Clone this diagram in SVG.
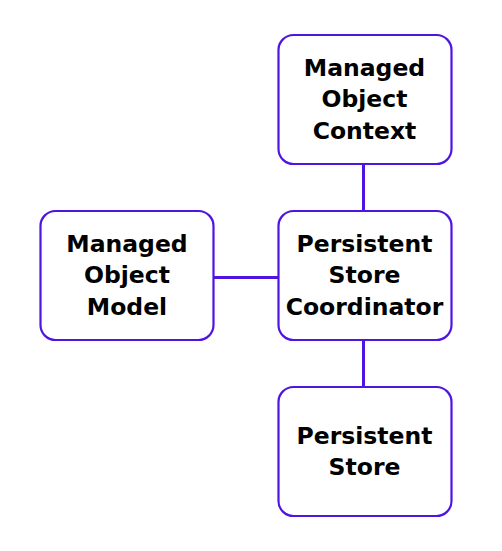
<svg xmlns="http://www.w3.org/2000/svg" width="502" height="551" viewBox="0 0 502 551">
<style>
.box{fill:#fff;stroke:#4f14e0;stroke-width:2.2}
.lbl{font-family:"DejaVu Sans",sans-serif;font-weight:bold;font-size:23.5px;fill:#000;text-anchor:middle}
.con{stroke:#4f14e0;stroke-width:3;fill:none}
</style>
<rect width="502" height="551" fill="#fff"/>
<g id="connectors">
<line class="con" x1="363.5" y1="164" x2="363.5" y2="211"/>
<line class="con" x1="214" y1="277.5" x2="278" y2="277.5"/>
<line class="con" x1="363.5" y1="340" x2="363.5" y2="387"/>
</g>
<g id="moc">
<rect class="box" x="278.5" y="35" width="173" height="129" rx="15"/>
<text class="lbl" x="364.5" y="75.5">Managed</text>
<text class="lbl" x="364.5" y="107">Object</text>
<text class="lbl" x="364.5" y="138.5">Context</text>
</g>
<g id="mom">
<rect class="box" x="40.5" y="211" width="173" height="129" rx="15"/>
<text class="lbl" x="127" y="251.5">Managed</text>
<text class="lbl" x="127" y="283">Object</text>
<text class="lbl" x="127" y="314.5">Model</text>
</g>
<g id="psc">
<rect class="box" x="278.5" y="211" width="173" height="129" rx="15"/>
<text class="lbl" x="364.5" y="251.5">Persistent</text>
<text class="lbl" x="364.5" y="283">Store</text>
<text class="lbl" x="364.5" y="314.5">Coordinator</text>
</g>
<g id="ps">
<rect class="box" x="278.5" y="387" width="173" height="129" rx="15"/>
<text class="lbl" x="364.5" y="443.5">Persistent</text>
<text class="lbl" x="364.5" y="475">Store</text>
</g>
</svg>
